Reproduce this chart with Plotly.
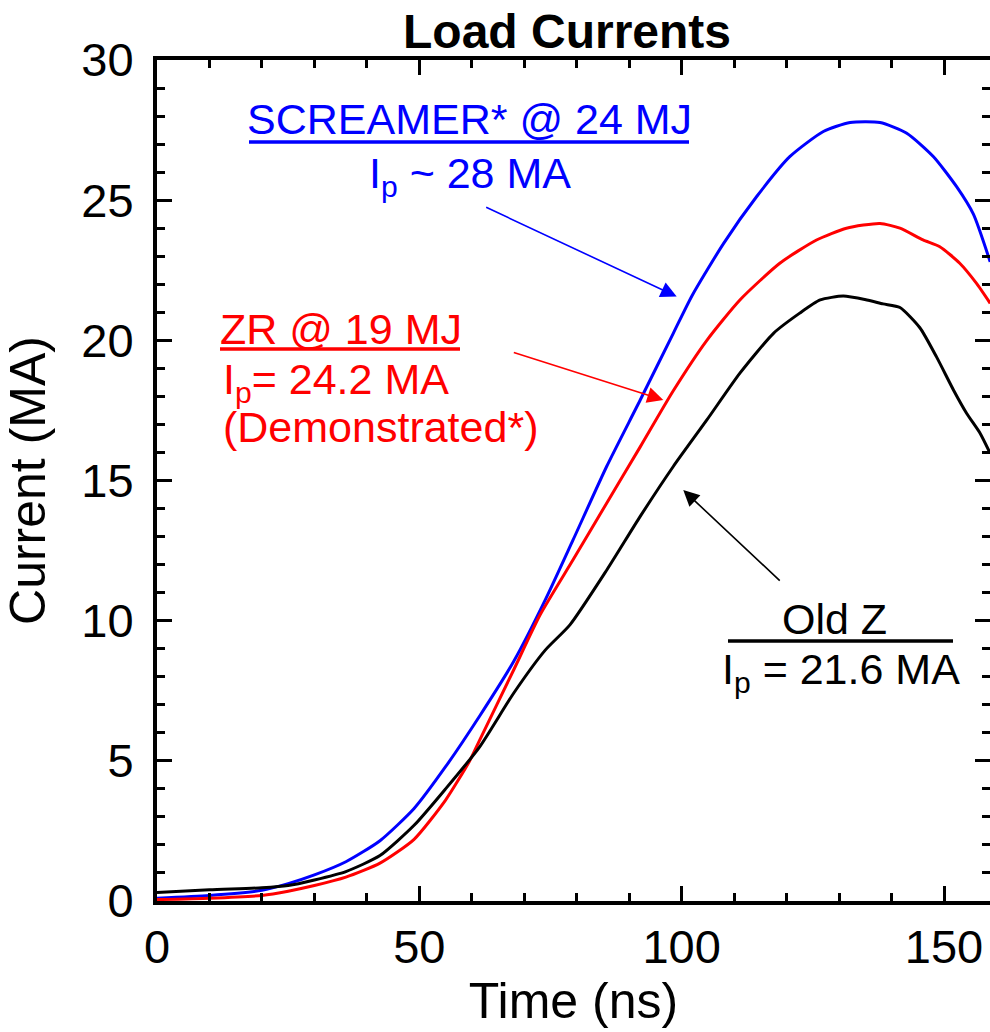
import plotly.graph_objects as go

# ---------------- data ----------------
time_screamer = [0, 10, 20, 25, 30, 36, 42.5, 49, 55, 61.5, 68, 74, 79.3, 85.7, 92.1, 98.4,
                 102, 108, 114.3, 120.6, 127, 132.1, 137.8, 142.9, 148, 152.4, 155.6, 158.8]
current_screamer = [0.1, 0.2, 0.38, 0.62, 0.93, 1.4, 2.15, 3.3, 4.79, 6.6, 8.55, 10.74,
                    12.88, 15.5, 17.87, 20.25, 21.6, 23.46, 25.13, 26.55, 27.45, 27.77,
                    27.77, 27.39, 26.55, 25.48, 24.5, 22.8]

time_zr = [0, 10, 20, 25, 30, 36, 42.5, 49, 55, 59.6, 61.5, 68, 73, 79.3, 85.7, 92.1, 98.4,
           104.8, 111.1, 118.7, 125.7, 131.4, 137.8, 141.6, 146, 149.2, 153, 156.2, 158.8]
current_zr = [0.05, 0.1, 0.2, 0.35, 0.55, 0.85, 1.35, 2.2, 3.6, 5.0, 5.74, 8.25, 10.2,
              12.17, 14.19, 16.2, 18.2, 20.0, 21.44, 22.75, 23.58, 24.0, 24.17, 24.0,
              23.58, 23.34, 22.75, 22.03, 21.32]

time_oldz = [0, 10, 20, 25, 30, 36, 42.5, 49, 55, 61.5, 68, 74, 78.7, 85.7, 92.1, 98.4,
             104.8, 111.1, 117.5, 122.5, 126.4, 130.8, 135.3, 138.4, 141.6, 145.4, 148.6,
             151.8, 154.3, 156.9, 158.8]
current_oldz = [0.3, 0.4, 0.47, 0.55, 0.75, 1.05, 1.62, 2.7, 4.0, 5.5, 7.42, 8.95, 9.85,
                11.8, 13.72, 15.5, 17.16, 18.83, 20.25, 20.97, 21.44, 21.58, 21.44, 21.3,
                21.17, 20.45, 19.4, 18.23, 17.4, 16.68, 15.97]

x_ticks = [0, 50, 100, 150]
y_ticks = [0, 5, 10, 15, 20, 25, 30]

BLUE = "#0000FF"
RED = "#FF0000"
BLACK = "#000000"
FONT = "Liberation Sans, Arial, sans-serif"

# plot-area geometry in picture pixels
L, R, T, B = 157, 990, 60, 901
W, H = 990, 1032


def px(p):
    return (p - L) / (R - L)


def py(p):
    return (B - p) / (B - T)


fig = go.Figure()
fig.add_trace(go.Scatter(x=time_screamer, y=current_screamer, mode="lines",
                         name="SCREAMER* @ 24 MJ",
                         line=dict(color=BLUE, width=3, shape="spline", smoothing=0.6)))
fig.add_trace(go.Scatter(x=time_zr, y=current_zr, mode="lines", name="ZR @ 19 MJ",
                         line=dict(color=RED, width=3, shape="spline", smoothing=0.6)))
fig.add_trace(go.Scatter(x=time_oldz, y=current_oldz, mode="lines", name="Old Z",
                         line=dict(color=BLACK, width=3, shape="spline", smoothing=0.6)))
# empty trace so the right-hand (tick-only) axis is drawn
fig.add_trace(go.Scatter(x=[], y=[], yaxis="y2", mode="lines", showlegend=False,
                         hoverinfo="skip"))

axis_common = dict(showgrid=False, zeroline=False, ticks="inside", tickwidth=3,
                   tickcolor=BLACK, tickfont=dict(size=47, family=FONT, color=BLACK))

fig.update_layout(
    width=W, height=H,
    margin=dict(l=L, r=W - R, t=T, b=H - B, autoexpand=False),
    paper_bgcolor="white", plot_bgcolor="white", showlegend=False,
    title=dict(text="<b>Load Currents</b>", x=567 / W, xref="container",
               xanchor="center", y=1 - 31 / H, yref="container", yanchor="middle",
               font=dict(size=48, family=FONT, color=BLACK)),
    xaxis=dict(range=[0, (R - L) / 5.2467], tickvals=x_ticks, ticklen=15,
               showline=True, linewidth=4, linecolor=BLACK, mirror="ticks",
               minor=dict(dtick=10, ticks="inside", ticklen=8, tickwidth=3,
                          tickcolor=BLACK, showgrid=False),
               ticklabelstandoff=2,
               title=dict(text="Time (ns)", font=dict(size=50, family=FONT, color=BLACK),
                          standoff=8),
               **axis_common),
    yaxis=dict(range=[0, 30], tickvals=y_ticks, ticklen=15,
               showline=True, linewidth=4, linecolor=BLACK, mirror=False,
               minor=dict(dtick=1, ticks="inside", ticklen=8, tickwidth=3,
                          tickcolor=BLACK, showgrid=False),
               ticklabelstandoff=10,
               title=dict(text="Current (MA)", font=dict(size=50, family=FONT, color=BLACK),
                          standoff=22),
               **axis_common),
    yaxis2=dict(overlaying="y", side="right", range=[0, 30], tickvals=y_ticks, ticklen=15,
                showline=False, showticklabels=False, anchor="x",
                minor=dict(dtick=1, ticks="inside", ticklen=8, tickwidth=3,
                           tickcolor=BLACK, showgrid=False),
                showgrid=False, zeroline=False, ticks="inside", tickwidth=3,
                tickcolor=BLACK),
)

# ---------------- text labels ----------------
labels = [
    ("SCREAMER* @ 24 MJ", 469, 93, "center", BLUE),
    ("I<sub>p</sub> ~ 28 MA", 470, 147, "center", BLUE),
    ("ZR @ 19 MJ", 218, 303, "left", RED),
    ("I<sub>p</sub>= 24.2 MA", 221, 353, "left", RED),
    ("(Demonstrated*)", 221, 401, "left", RED),
    ("Old Z", 834, 593, "center", BLACK),
    ("I<sub>p</sub> = 21.6 MA", 841, 643, "center", BLACK),
]
for text, x, y, anchor, color in labels:
    fig.add_annotation(text=text, x=px(x), y=py(y), xref="paper", yref="paper",
                       xanchor=anchor, yanchor="top", showarrow=False, align=anchor,
                       font=dict(size=43, family=FONT, color=color))

# underlines / fraction bar
for x0, x1, y, color in [(249, 689, 142, BLUE), (220, 460, 349, RED), (728, 953, 641, BLACK)]:
    fig.add_shape(type="line", xref="paper", yref="paper", x0=px(x0), x1=px(x1),
                  y0=py(y), y1=py(y), line=dict(color=color, width=3.5))

# ---------------- arrows (tip in data coords, tail offset in px) ----------------
arrows = [
    (99.05, 21.56, -192, -90, BLUE),
    (96.5, 17.87, -151, -48, RED),
    (100.3, 14.66, 98, 92, BLACK),
]
for xt, yt, ax, ay, color in arrows:
    fig.add_annotation(x=xt, y=yt, xref="x", yref="y", ax=ax, ay=ay, text="",
                       showarrow=True, arrowhead=2, arrowsize=2, arrowwidth=1.6,
                       arrowcolor=color, standoff=0)

# remove the browser's default 8px page margin so the figure fills the window
fig.write_html("out.html",
               config={"displayModeBar": False},
               post_script="document.body.style.margin='0px';"
                           "document.body.style.overflow='hidden';")
